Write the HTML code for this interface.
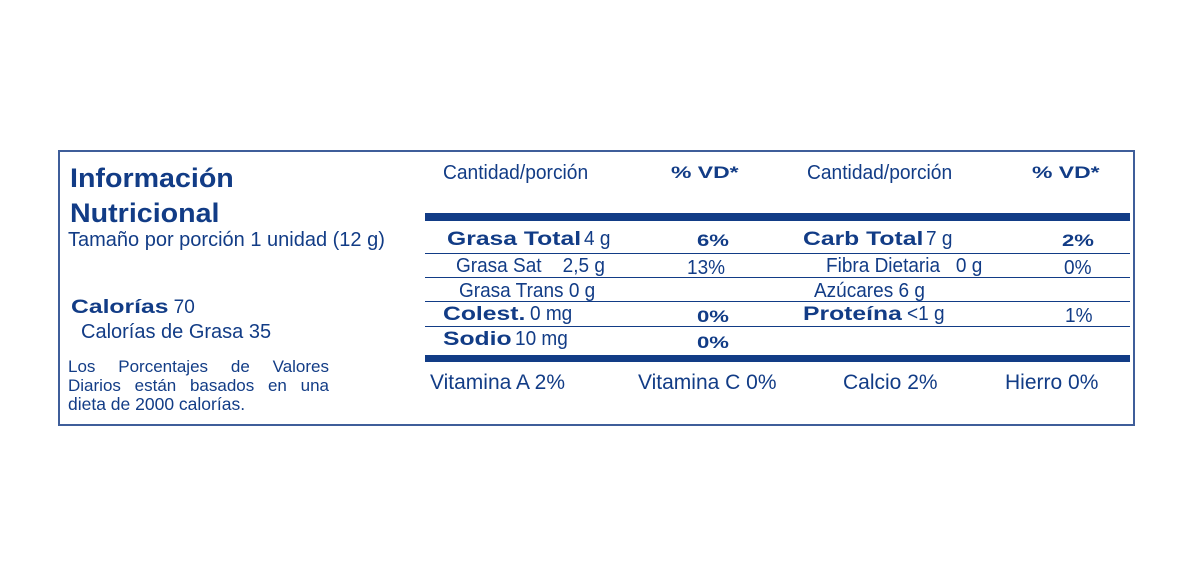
<!DOCTYPE html>
<html><head><meta charset="utf-8"><style>
body{margin:0;width:1200px;height:573px;background:#fff;position:relative;overflow:hidden;font-family:"Liberation Sans",sans-serif;color:#123c86}
.a{position:absolute;white-space:nowrap;line-height:1}
.b{font-weight:bold}
.k{font-weight:bold;display:inline-block;transform:scaleX(1.3);transform-origin:left;margin-right:0.3em}
.w{display:inline-block;transform:scaleX(1.3);transform-origin:left}
.n{font-size:20px;transform:scaleX(0.95);transform-origin:left}
.hl{position:absolute;left:425px;width:705px;background:#123c86}
.j{position:absolute;left:68px;width:261px;font-size:17px;line-height:1;text-align:justify;text-align-last:justify;white-space:nowrap}
</style></head><body>
<div style="position:absolute;left:58px;top:150px;width:1073px;height:272px;border:2px solid #3f5e9a"></div>
<div class="a b" style="left:70px;top:161px;font-size:27px;line-height:35px;transform:scaleX(1.06);transform-origin:left">Información<br>Nutricional</div>
<div class="a" style="left:68px;top:230px;font-size:20px">Tamaño por porción 1 unidad (12 g)</div>
<div class="a" style="left:71px;top:298px;font-size:19px"><span class="k">Calorías</span><span style="margin-left:22px">70</span></div>
<div class="a" style="left:81px;top:322px;font-size:20px">Calorías de Grasa 35</div>
<div class="j" style="top:358px">Los Porcentajes de Valores</div>
<div class="j" style="top:377px">Diarios están basados en una</div>
<div class="a" style="left:68px;top:396px;font-size:17.5px">dieta de 2000 calorías.</div>

<div class="a" style="left:443px;top:163px;font-size:20px;transform:scaleX(0.96);transform-origin:left">Cantidad/porción</div>
<div class="a b" style="left:671px;top:164px;font-size:17px"><span class="w" style="transform:scaleX(1.35)">% VD*</span></div>
<div class="a" style="left:807px;top:163px;font-size:20px;transform:scaleX(0.96);transform-origin:left">Cantidad/porción</div>
<div class="a b" style="left:1032px;top:164px;font-size:17px"><span class="w" style="transform:scaleX(1.35)">% VD*</span></div>

<div class="hl" style="top:213px;height:8px"></div>
<div class="hl" style="top:253px;height:1px"></div>
<div class="hl" style="top:277px;height:1px"></div>
<div class="hl" style="top:301px;height:1px"></div>
<div class="hl" style="top:326px;height:1px"></div>
<div class="hl" style="top:355px;height:7px"></div>

<div class="a" style="left:447px;top:229px;font-size:19px"><span class="k">Grasa Total</span><span class="n" style="display:inline-block;margin-left:28px">4 g</span></div>
<div class="a b" style="left:697px;top:232px;font-size:17px"><span class="w">6%</span></div>
<div class="a" style="left:803px;top:229px;font-size:19px"><span class="k">Carb Total</span><span class="n" style="display:inline-block;margin-left:25px">7 g</span></div>
<div class="a b" style="left:1062px;top:232px;font-size:17px"><span class="w">2%</span></div>

<div class="a n" style="left:456px;top:256px">Grasa Sat &nbsp;&nbsp; 2,5 g</div>
<div class="a n" style="left:687px;top:258px">13%</div>
<div class="a n" style="left:826px;top:256px">Fibra Dietaria &nbsp; 0 g</div>
<div class="a n" style="left:1064px;top:258px">0%</div>

<div class="a n" style="left:459px;top:281px">Grasa Trans 0 g</div>
<div class="a n" style="left:814px;top:281px">Azúcares 6 g</div>

<div class="a" style="left:443px;top:304px;font-size:19px"><span class="k">Colest.</span><span class="n" style="display:inline-block;margin-left:18px">0 mg</span></div>
<div class="a b" style="left:697px;top:308px;font-size:17px"><span class="w">0%</span></div>
<div class="a" style="left:803px;top:304px;font-size:19px"><span class="k">Proteína</span><span class="n" style="display:inline-block;margin-left:22px">&lt;1 g</span></div>
<div class="a n" style="left:1065px;top:306px">1%</div>

<div class="a" style="left:443px;top:329px;font-size:19px"><span class="k">Sodio</span><span class="n" style="display:inline-block;margin-left:14px">10 mg</span></div>
<div class="a b" style="left:697px;top:334px;font-size:17px"><span class="w">0%</span></div>

<div class="a" style="left:430px;top:372px;font-size:21px">Vitamina A 2%</div>
<div class="a" style="left:638px;top:372px;font-size:21px">Vitamina C 0%</div>
<div class="a" style="left:843px;top:372px;font-size:21px">Calcio 2%</div>
<div class="a" style="left:1005px;top:372px;font-size:21px">Hierro 0%</div>
</body></html>
